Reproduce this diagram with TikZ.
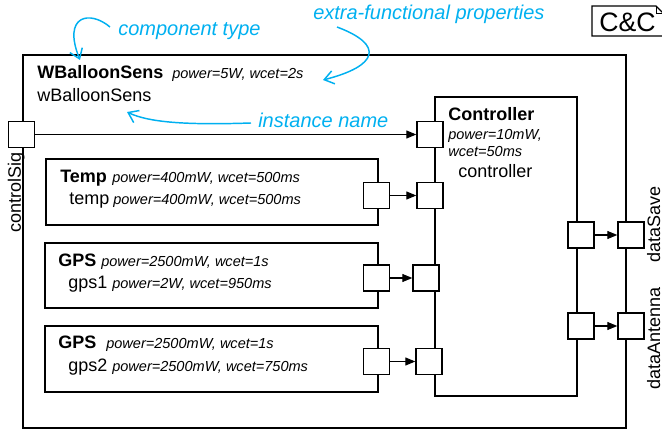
\documentclass[tikz,border=0pt]{standalone}
\usepackage{fontspec}
\setmainfont{Liberation Sans}
\usepackage{xcolor}
\usepackage{tikz}
\usetikzlibrary{arrows.meta}

\definecolor{hintblue}{RGB}{0,176,240}

\tikzset{
  port/.style={draw, fill=white, line width=1pt, minimum size=19.5pt, inner sep=0pt},
  flow/.style={line width=0.8pt, -{Triangle[length=7.5pt,width=6pt]}},
  hint/.style={hintblue, line width=1.1pt, -{Straight Barb[length=7pt,width=10pt]}},
  typ/.style={anchor=base west, inner sep=0pt, font=\fontsize{13.5}{16}\selectfont\bfseries},
  inst/.style={anchor=base west, inner sep=0pt, font=\fontsize{13.5}{16}\selectfont},
  prop/.style={anchor=base west, inner sep=0pt, font=\fontsize{10.9}{13}\selectfont\itshape},
  hintlbl/.style={anchor=base west, inner sep=0pt, text=hintblue, font=\fontsize{15}{18}\selectfont\itshape},
}

\begin{document}
\begin{tikzpicture}[x=0.75pt,y=0.75pt,yscale=-1,xscale=1]

\useasboundingbox (0,0) rectangle (662,435);

% outer component
\draw [line width=1.2pt] (23,55) -- (626,55) -- (626,428) -- (23,428) -- cycle ;
% controller
\draw [line width=1pt] (435,97) -- (577,97) -- (577,396) -- (435,396) -- cycle ;
% sensors
\draw [line width=1pt] (46,159) -- (378,159) -- (378,225) -- (46,225) -- cycle ;
\draw [line width=1pt] (45,243) -- (378,243) -- (378,308) -- (45,308) -- cycle ;
\draw [line width=1pt] (45,326) -- (378,326) -- (378,392) -- (45,392) -- cycle ;

% C&C note
\draw [line width=1pt] (592,6) -- (656,6) -- (663,13) -- (663,36) -- (592,36) -- cycle ;
\draw [line width=0.6pt] (656,6) -- (656,13) -- (663,13) ;
\node [anchor=base west, inner sep=0pt, font=\fontsize{20}{24}\selectfont] (cc) at (599,32) {C\&C};

% labels
\node [typ] (wbsType) at (37,79) {WBalloonSens};
\node [prop] (wbsProp) at (172,79) {power=5W, wcet=2s};
\node [inst] (wbsName) at (37,102) {wBalloonSens};

\node [typ] (ctrlType) at (448,121) {Controller};
\node [prop] (ctrlProp1) at (448,140) {power=10mW,};
\node [prop] (ctrlProp2) at (448,157) {wcet=50ms};
\node [inst] (ctrlName) at (458,178) {controller};

\node [typ] (tempType) at (60,183) {Temp};
\node [prop] (tempTypeProp) at (112,183) {power=400mW, wcet=500ms};
\node [inst] (tempName) at (69,205) {temp};
\node [prop] (tempProp) at (113,205) {power=400mW, wcet=500ms};

\node [typ] (gpsTypeA) at (58,267) {GPS};
\node [prop] (gpsTypePropA) at (101,267) {power=2500mW, wcet=1s};
\node [inst] (gpsNameA) at (68,289) {gps1};
\node [prop] (gpsPropA) at (112,289) {power=2W, wcet=950ms};

\node [typ] (gpsTypeB) at (58,349) {GPS};
\node [prop] (gpsTypePropB) at (106,349) {power=2500mW, wcet=1s};
\node [inst] (gpsNameB) at (68,372) {gps2};
\node [prop] (gpsPropB) at (112,372) {power=2500mW, wcet=750ms};

\node [inst, rotate=90] (csLbl) at (21,233) {controlSig};
\node [inst, rotate=90] (dsLbl) at (660,263) {dataSave};
\node [inst, rotate=90] (daLbl) at (660,390) {dataAntenna};

% ports
\node [port] (csPort) at (21.5,134.5) {};
\node [port] (ctrlInA) at (430,134.5) {};
\node [port] (tempOut) at (376.5,195.5) {};
\node [port] (ctrlInB) at (430,195.5) {};
\node [port] (gpsOutA) at (376.5,278) {};
\node [port] (ctrlInC) at (426,278) {};
\node [port] (gpsOutB) at (376.5,361.5) {};
\node [port] (ctrlInD) at (429,361.5) {};
\node [port] (ctrlOutA) at (581,235) {};
\node [port] (dsPort) at (631,235) {};
\node [port] (ctrlOutB) at (581,326) {};
\node [port] (daPort) at (631,326) {};

% connectors
\draw [flow] (csPort) -- (ctrlInA) ;
\draw [flow] (tempOut) -- (ctrlInB) ;
\draw [flow] (gpsOutA) -- (ctrlInC) ;
\draw [flow] (gpsOutB) -- (ctrlInD) ;
\draw [flow] (ctrlOutA) -- (dsPort) ;
\draw [flow] (ctrlOutB) -- (daPort) ;

% hints
\node [hintlbl] (ctLbl) at (118,36) {component type};
\node [hintlbl] (efLbl) at (313,20) {extra-functional properties};
\node [hintlbl] (inLbl) at (258,128) {instance name};

\coordinate (ctTip) at (80,60);
\coordinate (efTip) at (323,80);
\coordinate (inTip) at (127,112);

\draw [hint] (110,27) .. controls (90,10) and (62,15) .. (ctTip) ;
\draw [hint] (337,27) .. controls (385,45) and (378,66) .. (efTip) ;
\draw [hint] (251,123) .. controls (190,125) and (150,123) .. (inTip) ;

\end{tikzpicture}
\end{document}
